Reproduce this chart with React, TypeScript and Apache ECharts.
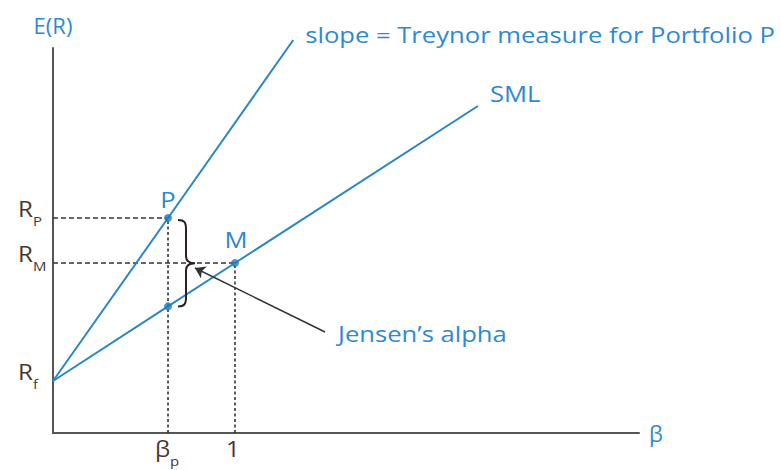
import React, { useEffect, useRef } from "react";
import * as echarts from "echarts";

// ---- data ----
const portfolioReturn = 21.5;
const marketReturn = 17.0;
const portfolioBeta = 0.632;
const marketBeta = 1;
const smlAtPortfolioBeta = 12.66;

const treynorLine = [[0, 5.2], [0.632, 21.5], [1.32, 39.3]];
const smlLine = [[0, 5.2], [0.632, 12.66], [1, 17.0], [2.335, 32.7]];
const dotPoints = [[0.632, 21.5], [1, 17.0], [0.632, 12.66]];

const yTickValues = [21.5, 17.0, 5.2];
const yTickMain = ["R", "R", "R"];
const yTickSub = ["P", "M", "f"];

const xTickValues = [0.632, 1];
const xTickMain = ["β", "1"];
const xTickSub = ["p", ""];

const noteTexts = ["slope = Treynor measure for Portfolio P", "SML", "P", "M", "Jensen’s alpha"];
const noteBeta = [1.32, 2.335, 0.632, 1, 1.495];
const noteReturn = [39.3, 32.7, 21.5, 17.0, 10.1];

const arrowTail = [1.495, 10.1];
const arrowHead = [0.78, 16.5];

const xMax = 3.22;
const yMax = 38.5;

// ---- styles ----
const BLUE_LINE = "#2a87c2";
const BLUE_TEXT = "#2e89d0";
const DARK = "#333333";
const TICK_TEXT = "#45392f";
const FONT = "Open Sans";
const STRETCH = 1.22;
// offsets of each note from its anchor (px) and alignment
const noteDx = [12, 12, 0, 1, 13];
const noteDy = [-5, -12, -18, -23, 2];
const noteAlign = ["left", "left", "center", "center", "left"];

export default function App() {
  const ref = useRef<HTMLDivElement>(null);
  useEffect(() => {
    if (!ref.current) return;
    const chart = echarts.init(ref.current, undefined, { renderer: "svg" });
    const dashH = [5, 3];
    const dashV = [3, 2.5];
    const option: any = {
      animation: false,
      grid: { left: 53, top: 48, width: 586, height: 385 },
      xAxis: {
        type: "value",
        min: 0,
        max: xMax,
        axisLine: { show: true, lineStyle: { color: "#555", width: 2 } },
        axisTick: { show: false },
        axisLabel: { show: false },
        splitLine: { show: false },
        name: "β",
        nameLocation: "end",
        nameGap: 10,
        nameTextStyle: { color: BLUE_TEXT, fontSize: 22, fontFamily: FONT },
      },
      yAxis: {
        type: "value",
        min: 0,
        max: yMax,
        axisLine: { show: true, lineStyle: { color: "#555", width: 2 } },
        axisTick: { show: false },
        axisLabel: { show: false },
        splitLine: { show: false },
        name: "E(R)",
        nameLocation: "end",
        nameGap: 12,
        nameTextStyle: { color: BLUE_TEXT, fontSize: 22, fontFamily: FONT, align: "center" },
      },
      series: [
        // dashed guide lines
        {
          type: "line", symbol: "none", silent: true, z: 1,
          data: [[0, portfolioReturn], [portfolioBeta, portfolioReturn]],
          lineStyle: { color: DARK, width: 1.6, type: dashH },
        },
        {
          type: "line", symbol: "none", silent: true, z: 1,
          data: [[0, marketReturn], [marketBeta, marketReturn]],
          lineStyle: { color: DARK, width: 1.6, type: dashH },
        },
        {
          type: "line", symbol: "none", silent: true, z: 1,
          data: [[portfolioBeta, 0], [portfolioBeta, portfolioReturn]],
          lineStyle: { color: DARK, width: 1.6, type: dashV },
        },
        {
          type: "line", symbol: "none", silent: true, z: 1,
          data: [[marketBeta, 0], [marketBeta, marketReturn]],
          lineStyle: { color: DARK, width: 1.6, type: dashV },
        },
        // Treynor line
        {
          type: "line", symbol: "none", clip: false, z: 3,
          data: treynorLine,
          lineStyle: { color: BLUE_LINE, width: 2 },
        },
        // SML
        {
          type: "line", symbol: "none", clip: false, z: 3,
          data: smlLine,
          lineStyle: { color: BLUE_LINE, width: 2 },
        },
        // dots
        {
          type: "scatter", z: 5, symbolSize: 8,
          itemStyle: { color: "#1f7ab8" },
          data: dotPoints,
        },
        // brace
        {
          type: "custom", z: 4, silent: true,
          data: [[portfolioBeta, portfolioReturn, smlAtPortfolioBeta]],
          renderItem: (params: any, api: any) => {
            const p1 = api.coord([api.value(0), api.value(1)]);
            const p2 = api.coord([api.value(0), api.value(2)]);
            const x0 = p1[0] + 10;
            const sx = x0 + 8;
            const tip = x0 + 17;
            const yT = p1[1] + 2;
            const yB = p2[1];
            const yM = (yT + yB) / 2;
            const d =
              `M${x0} ${yT} C${x0 + 6} ${yT} ${sx} ${yT + 2} ${sx} ${yT + 9} ` +
              `L${sx} ${yM - 7} C${sx} ${yM - 2} ${sx + 3} ${yM} ${tip} ${yM} ` +
              `C${sx + 3} ${yM} ${sx} ${yM + 2} ${sx} ${yM + 7} ` +
              `L${sx} ${yB - 9} C${sx} ${yB - 2} ${x0 + 6} ${yB} ${x0} ${yB}`;
            return {
              type: "path",
              shape: { pathData: d },
              style: { fill: "none", stroke: "#2a1e1e", lineWidth: 2 },
            };
          },
        },
        // arrow
        {
          type: "lines", coordinateSystem: "cartesian2d", z: 4, silent: true,
          symbol: ["none", "arrow"], symbolSize: 10,
          lineStyle: { color: DARK, width: 1.5, opacity: 1 },
          data: [{ coords: [arrowTail, arrowHead] }],
        },
        // annotations
        {
          type: "custom", z: 6, silent: true, clip: false,
          data: noteTexts.map((_, i) => [noteBeta[i], noteReturn[i], i]),
          renderItem: (params: any, api: any) => {
            const i = api.value(2);
            const p = api.coord([api.value(0), api.value(1)]);
            return {
              type: "text",
              x: p[0] + noteDx[i],
              y: p[1] + noteDy[i],
              scaleX: STRETCH,
              style: {
                text: noteTexts[i],
                fill: BLUE_TEXT,
                fontSize: 21,
                fontFamily: FONT,
                align: noteAlign[i],
                verticalAlign: "middle",
              },
            };
          },
        },
        // y tick labels
        {
          type: "custom", z: 6, silent: true, clip: false,
          data: yTickValues.map((v, i) => [0, v, i]),
          renderItem: (params: any, api: any) => {
            const i = api.value(2);
            const p = api.coord([api.value(0), api.value(1)]);
            return {
              type: "group",
              children: [
                {
                  type: "text", x: p[0] - 20, y: p[1] - 9, scaleX: 1.15,
                  style: { text: yTickMain[i], fill: TICK_TEXT, fontSize: 21, fontFamily: FONT, align: "right", verticalAlign: "middle" },
                },
                {
                  type: "text", x: p[0] - 20, y: p[1] + 3, scaleX: 1.15,
                  style: { text: yTickSub[i], fill: TICK_TEXT, fontSize: 13, fontFamily: FONT, align: "left", verticalAlign: "middle" },
                },
              ],
            };
          },
        },
        // x tick labels
        {
          type: "custom", z: 6, silent: true, clip: false,
          data: xTickValues.map((v, i) => [v, 0, i]),
          renderItem: (params: any, api: any) => {
            const i = api.value(2);
            const p = api.coord([api.value(0), api.value(1)]);
            const hasSub = !!xTickSub[i];
            const children: any[] = [
              {
                type: "text", x: hasSub ? p[0] + 2 : p[0] - 2, y: p[1] + 16, scaleX: 1.15,
                style: { text: xTickMain[i], fill: TICK_TEXT, fontSize: 21, fontFamily: FONT, align: hasSub ? "right" : "center", verticalAlign: "middle" },
              },
            ];
            if (hasSub) {
              children.push({
                type: "text", x: p[0] + 2, y: p[1] + 28, scaleX: 1.15,
                style: { text: xTickSub[i], fill: TICK_TEXT, fontSize: 13, fontFamily: FONT, align: "left", verticalAlign: "middle" },
              });
            }
            return { type: "group", children };
          },
        },
      ],
    };
    chart.setOption(option);
    return () => chart.dispose();
  }, []);
  return (
    <div
      ref={ref}
      style={{ position: "fixed", left: 0, top: 0, width: 781, height: 470, background: "#fff" }}
    />
  );
}
